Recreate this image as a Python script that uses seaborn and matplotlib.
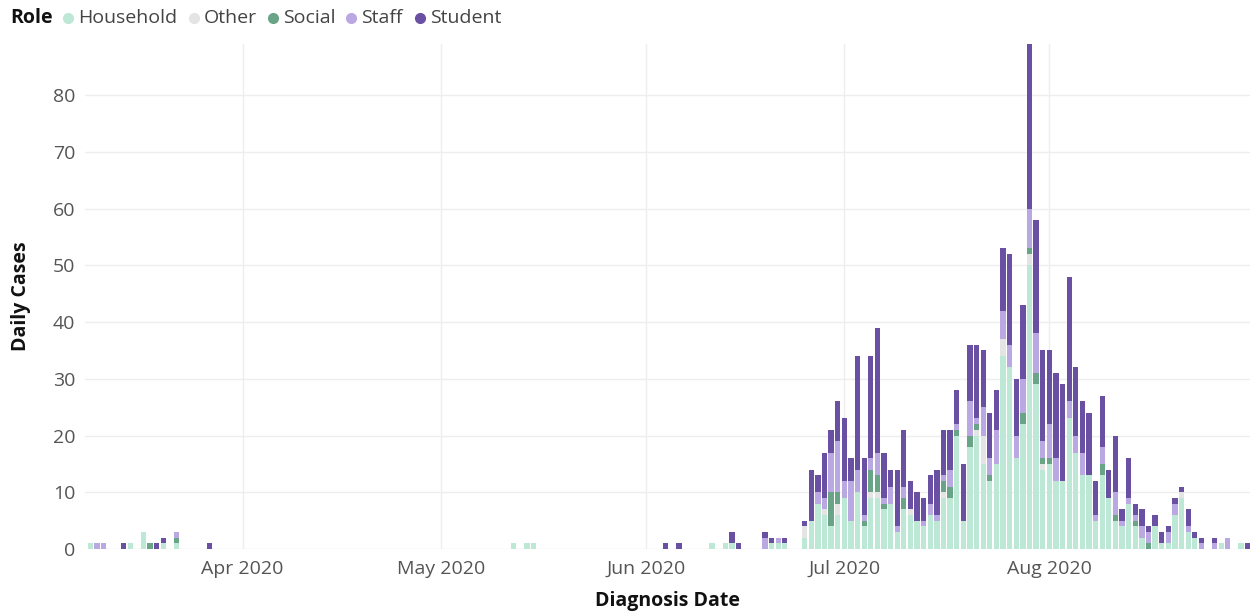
import numpy as np
import pandas as pd
import matplotlib
matplotlib.use("Agg")
import matplotlib.pyplot as plt
import matplotlib.dates as mdates
from matplotlib.lines import Line2D
import seaborn as sns

# ---------------- data ----------------
dates = [
    "2020-03-09", "2020-03-10", "2020-03-11", "2020-03-14", "2020-03-15", "2020-03-17",
    "2020-03-18", "2020-03-19", "2020-03-20", "2020-03-22", "2020-03-27",
    "2020-05-12", "2020-05-14", "2020-05-15",
    "2020-06-04", "2020-06-06", "2020-06-11", "2020-06-13", "2020-06-14", "2020-06-15",
    "2020-06-19", "2020-06-20", "2020-06-21", "2020-06-22",
    "2020-06-25", "2020-06-26", "2020-06-27", "2020-06-28", "2020-06-29", "2020-06-30",
    "2020-07-01", "2020-07-02", "2020-07-03", "2020-07-04", "2020-07-05", "2020-07-06",
    "2020-07-07", "2020-07-08", "2020-07-09", "2020-07-10", "2020-07-11", "2020-07-12",
    "2020-07-13", "2020-07-14", "2020-07-15", "2020-07-16", "2020-07-17", "2020-07-18",
    "2020-07-19", "2020-07-20", "2020-07-21", "2020-07-22", "2020-07-23", "2020-07-24",
    "2020-07-25", "2020-07-26", "2020-07-27", "2020-07-28", "2020-07-29", "2020-07-30",
    "2020-07-31", "2020-08-01", "2020-08-02", "2020-08-03", "2020-08-04", "2020-08-05",
    "2020-08-06", "2020-08-07", "2020-08-08", "2020-08-09", "2020-08-10", "2020-08-11",
    "2020-08-12", "2020-08-13", "2020-08-14", "2020-08-15", "2020-08-16", "2020-08-17",
    "2020-08-18", "2020-08-19", "2020-08-20", "2020-08-21", "2020-08-22", "2020-08-23",
    "2020-08-24", "2020-08-26", "2020-08-27", "2020-08-28", "2020-08-30", "2020-08-31",
]
household = [1, 0, 0, 0, 1, 3, 0, 0, 1, 1, 0,
             1, 1, 1,
             0, 0, 1, 1, 1, 0, 0, 1, 1, 1,
             2, 5, 8, 6, 4, 6,
             9, 5, 10, 4, 9, 9, 7, 8, 3, 7, 6, 5,
             4, 6, 5, 9, 9, 20, 5, 18, 20, 15, 12, 15,
             34, 32, 16, 22, 50, 29, 14, 15, 12, 12, 23, 17,
             13, 13, 5, 13, 9, 5, 4, 8, 4, 2, 0, 4,
             1, 1, 6, 9, 3, 2, 0, 0, 1, 0, 1, 0]
other = [0, 0, 0, 0, 0, 0, 0, 0, 0, 0, 0,
         0, 0, 0,
         0, 0, 0, 0, 0, 0, 0, 0, 0, 0,
         2, 0, 0, 1, 0, 2,
         0, 0, 0, 0, 1, 1, 0, 0, 0, 0, 1, 0,
         0, 0, 0, 1, 0, 0, 0, 0, 1, 5, 0, 0,
         3, 0, 0, 0, 2, 0, 1, 0, 0, 0, 0, 0,
         0, 0, 0, 0, 0, 0, 0, 0, 0, 0, 0, 0,
         0, 0, 0, 1, 0, 0, 0, 0, 0, 0, 0, 0]
social = [0, 0, 0, 0, 0, 0, 1, 0, 0, 1, 0,
          0, 0, 0,
          0, 0, 0, 0, 0, 0, 0, 0, 0, 0,
          0, 0, 0, 0, 6, 2,
          0, 0, 0, 1, 4, 3, 1, 0, 0, 2, 0, 0,
          0, 0, 0, 2, 2, 1, 0, 2, 1, 0, 1, 0,
          0, 0, 0, 2, 1, 2, 1, 1, 0, 0, 0, 0,
          0, 0, 0, 2, 0, 1, 0, 0, 1, 0, 1, 0,
          0, 0, 0, 0, 0, 0, 0, 0, 0, 0, 0, 0]
staff = [0, 1, 1, 0, 0, 0, 0, 0, 0, 1, 0,
         0, 0, 0,
         0, 0, 0, 0, 0, 0, 2, 0, 1, 0,
         0, 0, 2, 2, 7, 9,
         3, 7, 4, 1, 2, 4, 1, 3, 1, 2, 0, 0,
         1, 2, 1, 1, 3, 1, 0, 6, 1, 5, 3, 6,
         5, 4, 4, 6, 7, 7, 3, 6, 4, 0, 3, 3,
         4, 0, 1, 3, 0, 4, 1, 1, 1, 2, 2, 0,
         0, 2, 2, 0, 1, 0, 1, 1, 0, 2, 0, 0]
student = [0, 0, 0, 1, 0, 0, 0, 1, 1, 0, 1,
           0, 0, 0,
           1, 1, 0, 0, 2, 1, 1, 1, 0, 1,
           1, 9, 3, 8, 4, 7,
           11, 4, 20, 10, 18, 22, 8, 3, 10, 10, 5, 5,
           4, 5, 8, 8, 7, 6, 10, 10, 13, 10, 8, 7,
           11, 16, 10, 13, 29, 20, 16, 13, 15, 17, 22, 12,
           9, 11, 6, 9, 5, 10, 2, 7, 2, 3, 1, 2,
           2, 1, 1, 1, 3, 1, 1, 1, 0, 0, 0, 1]

roles = ["Household", "Other", "Social", "Staff", "Student"]
role_colors = ["#BDE8D5", "#E4E4E4", "#6AA487", "#BAA8E2", "#6A50A2"]
y_ticks = [0, 10, 20, 30, 40, 50, 60, 70, 80]
month_ticks = ["2020-04-01", "2020-05-01", "2020-06-01", "2020-07-01", "2020-08-01"]
month_labels = ["Apr 2020", "May 2020", "Jun 2020", "Jul 2020", "Aug 2020"]

# ---------------- long table ----------------
series = dict(zip(roles, [household, other, social, staff, student]))
rows = []
for i, d in enumerate(dates):
    xnum = mdates.date2num(pd.Timestamp(d))
    for r in roles:
        v = series[r][i]
        if v > 0:
            rows.append((xnum, r, v))
df = pd.DataFrame(rows, columns=["x", "Role", "n"])

# ---------------- plot ----------------
sns.set_theme(style="white")
plt.rcParams["font.family"] = ["Open Sans", "DejaVu Sans"]

W, H = 1250, 611
fig = plt.figure(figsize=(W / 100, H / 100), dpi=100)
left, right, bottom, top = 85, 1250, 549, 44
ax = fig.add_axes([left / W, 1 - bottom / H, (right - left) / W, (bottom - top) / H])

palette = dict(zip(roles, role_colors))
sns.histplot(data=df, x="x", weights="n", hue="Role", hue_order=roles[::-1],
             multiple="stack", discrete=True, shrink=0.8, palette=palette,
             alpha=1, linewidth=0, legend=False, ax=ax, zorder=3)

x0 = mdates.date2num(pd.Timestamp("2020-03-09")) - 0.83
x1 = mdates.date2num(pd.Timestamp("2020-08-31")) + 0.35
ax.set_xlim(x0, x1)
ax.set_ylim(0, 89)

ax.set_yticks(y_ticks)
ax.set_yticklabels([str(v) for v in y_ticks])
ax.set_xticks([mdates.date2num(pd.Timestamp(m)) for m in month_ticks])
ax.set_xticklabels(month_labels)

ax.grid(True, color="#EEEEEE", linewidth=1, zorder=0)
ax.set_axisbelow(True)
for s in ax.spines.values():
    s.set_visible(False)
ax.tick_params(axis="both", length=0, labelsize=14, colors="#555555")
ax.tick_params(axis="x", pad=8)
ax.tick_params(axis="y", pad=7)

ax.set_xlabel("Diagnosis Date", fontsize=14, fontweight="bold", color="#111111", labelpad=9)
ax.set_ylabel("Daily Cases", fontsize=14, fontweight="bold", color="#111111", labelpad=16)

# ---------------- legend (Power BI style) ----------------
ly = 1 - 18 / H
fig.text(10 / W, ly, "Role", fontsize=14, color="#111111", fontweight="bold",
         ha="left", va="center")
leg_pos = [(68, 78), (194, 204), (273, 283), (351, 361), (420, 430)]
for (cx, tx), r, c in zip(leg_pos, roles, role_colors):
    fig.add_artist(Line2D([cx / W], [ly], transform=fig.transFigure, marker="o",
                          markersize=7, color=c, linestyle="none"))
    fig.text(tx / W, ly, r, fontsize=14, color="#444444", ha="left", va="center")

fig.savefig("out.png", dpi=100)
